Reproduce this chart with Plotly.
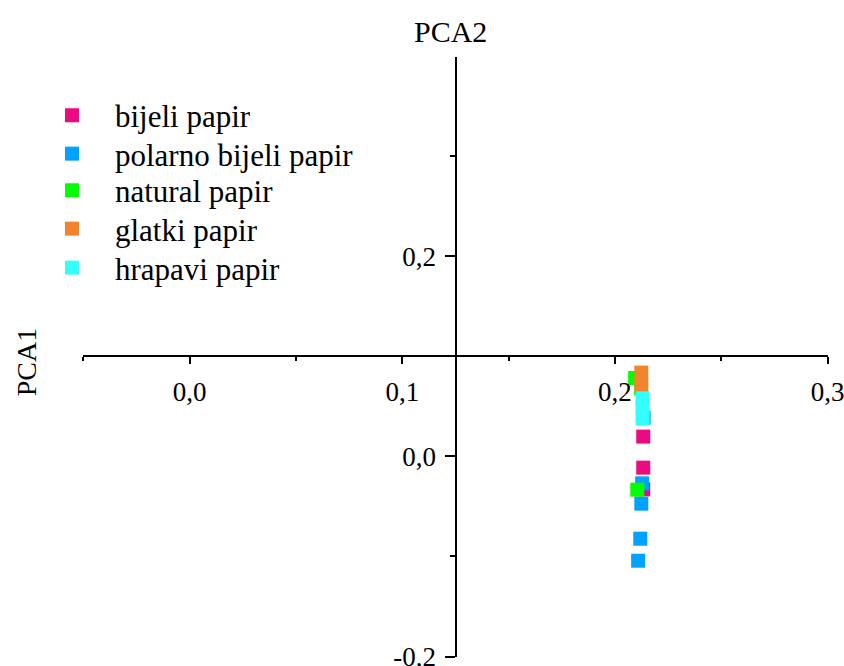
import plotly.graph_objects as go

# ---- data ----
series_names = ["bijeli papir", "polarno bijeli papir", "natural papir", "glatki papir", "hrapavi papir"]
series_colors = ["#EC0A82", "#00A2FF", "#00FF00", "#F0852D", "#33FFFF"]

bijeli_x = [0.2133, 0.2133, 0.2133]
bijeli_y = [0.0197, -0.0113, -0.0330]

polarno_x = [0.2135, 0.2128, 0.2124, 0.2119, 0.2109]
polarno_y = [0.0387, -0.0270, -0.0473, -0.0823, -0.1043]

natural_x = [0.2095, 0.2123, 0.2105]
natural_y = [0.0783, 0.0677, -0.0333]

glatki_x = [0.2124, 0.2124]
glatki_y = [0.0837, 0.0717]

hrapavi_x = [0.2130, 0.2130, 0.2130]
hrapavi_y = [0.0580, 0.0487, 0.0377]

x_major = [0.0, 0.1, 0.2, 0.3]
x_major_text = ["0,0", "0,1", "0,2", "0,3"]
x_minor = [-0.05, 0.05, 0.15, 0.25]
y_major = [-0.2, 0.0, 0.2]
y_major_text = ["-0,2", "0,0", "0,2"]
y_minor = [-0.1, 0.1, 0.3]

x_range = [-0.0502, 0.3002]
y_range = [-0.2005, 0.399]
cross_x = 0.125
cross_y = 0.1

xs = [bijeli_x, polarno_x, natural_x, glatki_x, hrapavi_x]
ys = [bijeli_y, polarno_y, natural_y, glatki_y, hrapavi_y]

FONT = "Liberation Serif, Times New Roman, serif"

W, H = 844, 666
ML, MR, MT, MB = 83, 16, 57, 9
plot_h = H - MT - MB

# legend row centres (pixels from top) -> one legend per series
legend_rows_px = [115.7, 154, 190.7, 229, 268]

fig = go.Figure()
for i, (name, color, x, y) in enumerate(zip(series_names, series_colors, xs, ys)):
    fig.add_trace(go.Scatter(
        x=x, y=y, mode="markers", name=name,
        legend="legend" if i == 0 else f"legend{i + 1}",
        marker=dict(symbol="square", size=14, color=color, line=dict(width=0)),
    ))

xpos = (cross_x - x_range[0]) / (x_range[1] - x_range[0])
ypos = (cross_y - y_range[0]) / (y_range[1] - y_range[0])

legend_layout = {}
for i, py in enumerate(legend_rows_px):
    key = "legend" if i == 0 else f"legend{i + 1}"
    legend_layout[key] = dict(
        x=-0.0725, y=1 - (py - MT) / plot_h, xanchor="left", yanchor="middle",
        font=dict(family=FONT, size=31, color="black"),
        itemwidth=76, bgcolor="rgba(0,0,0,0)",
    )

fig.update_layout(
    width=W, height=H,
    margin=dict(l=ML, r=MR, t=MT, b=MB, autoexpand=False),
    plot_bgcolor="white", paper_bgcolor="white",
    font=dict(family=FONT, size=27, color="black"),
    showlegend=True,
    xaxis=dict(
        range=x_range, anchor="free", position=ypos, automargin=False,
        showgrid=False, zeroline=False, showline=True, linecolor="black", linewidth=2,
        tickmode="array", tickvals=x_major, ticktext=x_major_text,
        ticks="outside", ticklen=7, tickwidth=2, tickcolor="black",
        ticklabelstandoff=4, ticklabeloverflow="allow",
        tickfont=dict(family=FONT, size=27, color="black"),
        minor=dict(tickvals=x_minor, ticks="outside", ticklen=4, tickwidth=2, tickcolor="black"),
    ),
    yaxis=dict(
        range=y_range, anchor="free", position=xpos, automargin=False,
        showgrid=False, zeroline=False, showline=True, linecolor="black", linewidth=2,
        tickmode="array", tickvals=y_major, ticktext=y_major_text,
        ticks="outside", ticklen=10, tickwidth=2, tickcolor="black",
        ticklabelstandoff=3, ticklabeloverflow="allow",
        tickfont=dict(family=FONT, size=27, color="black"),
        minor=dict(tickvals=y_minor, ticks="outside", ticklen=5, tickwidth=2, tickcolor="black"),
    ),
    annotations=[
        dict(text="PCA2", xref="paper", yref="paper", x=xpos, xshift=-5, y=1, yshift=26,
             xanchor="center", yanchor="middle", showarrow=False,
             font=dict(family=FONT, size=30, color="black")),
        dict(text="PCA1", xref="paper", yref="paper", x=0, xshift=-57, y=ypos, yshift=-6,
             xanchor="center", yanchor="middle", showarrow=False, textangle=-90,
             font=dict(family=FONT, size=28, color="black")),
    ],
    **legend_layout,
)

fig.write_html("out.html")
